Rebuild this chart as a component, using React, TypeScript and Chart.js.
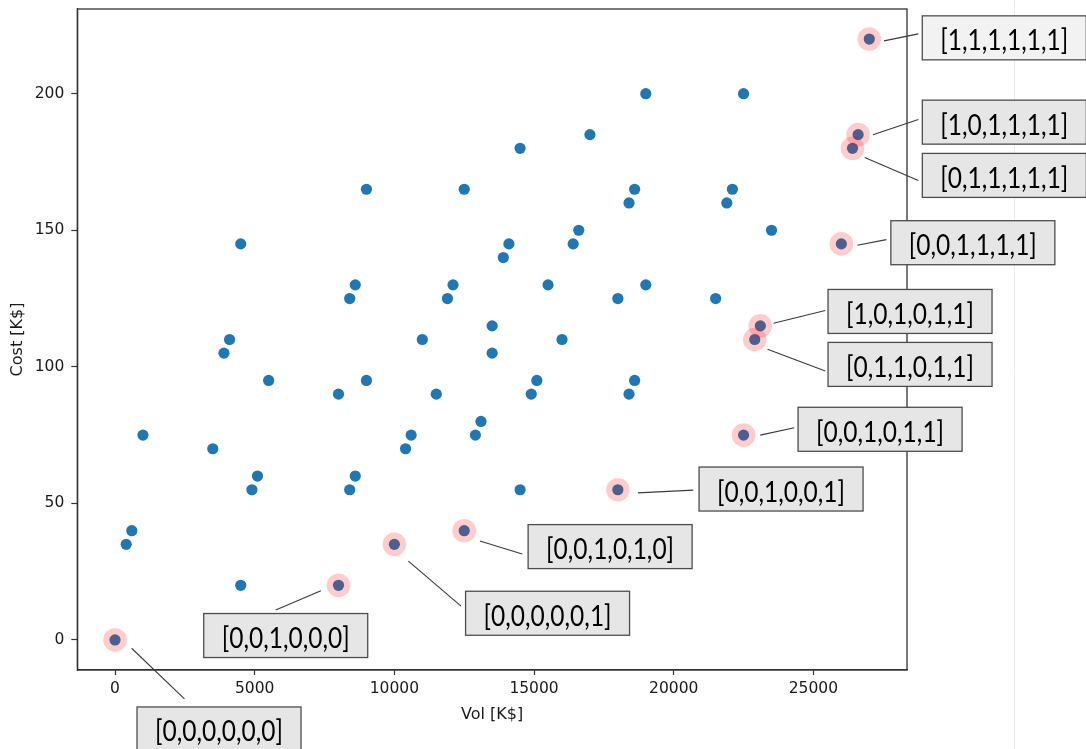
import React, { useEffect, useRef } from "react";
import { Chart, registerables } from "chart.js";

Chart.register(...registerables);

// ---- data ----
const volValues = [
  400, 600, 1000, 3500, 3900, 4100, 4500, 4500, 4900, 5100,
  5500, 8000, 8400, 8600, 9000, 9000, 8400, 8600, 11000, 10400,
  10600, 11500, 11900, 12100, 12500, 12900, 13100, 13500, 13500, 13900,
  14100, 14500, 14500, 14900, 15100, 15500, 16000, 16400, 16600, 17000,
  18000, 18400, 18600, 18400, 18600, 19000, 19000, 21500, 21900, 22100,
  22500, 23500,
];
const costValues = [
  35, 40, 75, 70, 105, 110, 145, 20, 55, 60,
  95, 90, 125, 130, 165, 95, 55, 60, 110, 70,
  75, 90, 125, 130, 165, 75, 80, 105, 115, 140,
  145, 180, 55, 90, 95, 130, 110, 145, 150, 185,
  125, 160, 165, 90, 95, 200, 130, 125, 160, 165,
  200, 150,
];

const paretoVol = [0, 8000, 10000, 12500, 18000, 22500, 22900, 23100, 26000, 26400, 26600, 27000];
const paretoCost = [0, 20, 35, 40, 55, 75, 110, 115, 145, 180, 185, 220];
const paretoLabels = [
  "[0,0,0,0,0,0]",
  "[0,0,1,0,0,0]",
  "[0,0,0,0,0,1]",
  "[0,0,1,0,1,0]",
  "[0,0,1,0,0,1]",
  "[0,0,1,0,1,1]",
  "[0,1,1,0,1,1]",
  "[1,0,1,0,1,1]",
  "[0,0,1,1,1,1]",
  "[0,1,1,1,1,1]",
  "[1,0,1,1,1,1]",
  "[1,1,1,1,1,1]",
];

const xTicks = [0, 5000, 10000, 15000, 20000, 25000];
const yTicks = [0, 50, 100, 150, 200];
const xTitle = "Vol [K$]";
const yTitle = "Cost [K$]";

// ---- layout (pixel offsets of label boxes / leader lines relative to their point) ----
// [boxCenterDx, boxCenterDy, lineStartDx, lineStartDy, lineEndDx, lineEndDy]
const labelLayout = [
  [104, 89, 16.6, 8.3, 69.4, 59],
  [-52.8, 50.2, -17.6, 5.4, -62.8, 24.7],
  [153.2, 68.9, 14, 16.7, 66.7, 61.7],
  [145.9, 15.9, 15.7, 10.4, 58, 23.4],
  [163.2, -0.7, 20, 3.1, 75.4, 0.4],
  [136.5, -5.8, 16.7, 0, 50.7, -7.3],
  [155.3, 24.9, 12.8, 9.7, 70.5, 31.4],
  [149.7, -14.4, 13.2, -2.6, 64.9, -15.3],
  [131.5, -1.2, 16, 1.4, 45, -4.3],
  [151.8, 27.1, 12.2, 9.1, 65.8, 32.1],
  [146.2, -12.5, 14.9, 0.1, 60.2, -15.2],
  [135, -1.2, 14.7, 1.8, 49, -5.2],
];
const boxFills = ["#e6e6e6", "#e6e6e6", "#e6e6e6", "#e6e6e6", "#e6e6e6", "#e6e6e6",
  "#e6e6e6", "#e6e6e6", "#e6e6e6", "#e6e6e6", "#e6e6e6", "#f2f2f2"];

const W = 1086;
const H = 749;

const overlayPlugin = {
  id: "overlay",
  beforeDraw(chart: any) {
    const ctx = chart.ctx;
    ctx.save();
    ctx.fillStyle = "#ffffff";
    ctx.fillRect(0, 0, chart.width, chart.height);
    ctx.strokeStyle = "#ebebeb";
    ctx.lineWidth = 1;
    ctx.beginPath();
    ctx.moveTo(1014.5, 0);
    ctx.lineTo(1014.5, chart.height);
    ctx.stroke();
    ctx.restore();
  },
  beforeDatasetsDraw(chart: any) {
    const { ctx, chartArea } = chart;
    ctx.save();
    ctx.strokeStyle = "#333333";
    ctx.lineWidth = 1.3;
    ctx.strokeRect(chartArea.left, chartArea.top, chartArea.right - chartArea.left, chartArea.bottom - chartArea.top);
    ctx.restore();
  },
  afterDraw(chart: any) {
    const { ctx } = chart;
    const xs = chart.scales.x;
    const ys = chart.scales.y;
    ctx.save();
    for (let i = 0; i < paretoLabels.length; i++) {
      const px = xs.getPixelForValue(paretoVol[i]);
      const py = ys.getPixelForValue(paretoCost[i]);
      const [bdx, bdy, sdx, sdy, edx, edy] = labelLayout[i];
      // leader line
      ctx.strokeStyle = "#3a3a3a";
      ctx.lineWidth = 1.1;
      ctx.beginPath();
      ctx.moveTo(px + sdx, py + sdy);
      ctx.lineTo(px + edx, py + edy);
      ctx.stroke();
      // box
      const bw = 164;
      const bh = 44;
      const cx = px + bdx;
      const cy = py + bdy;
      ctx.fillStyle = boxFills[i];
      ctx.fillRect(cx - bw / 2, cy - bh / 2, bw, bh);
      ctx.strokeStyle = "#4d4d4d";
      ctx.lineWidth = 1.3;
      ctx.strokeRect(cx - bw / 2, cy - bh / 2, bw, bh);
      // text
      ctx.fillStyle = "#000000";
      ctx.font = "29px Lato";
      ctx.textAlign = "center";
      ctx.textBaseline = "alphabetic";
      ctx.fillText(paretoLabels[i], cx, cy + 12.5, 128);
    }
    ctx.restore();
  },
};

export default function App() {
  const canvasRef = useRef<HTMLCanvasElement | null>(null);

  useEffect(() => {
    document.body.style.margin = "0";
    const canvas = canvasRef.current;
    if (!canvas) return;

    const allPoints = volValues.map((v, i) => ({ x: v, y: costValues[i] }))
      .concat(paretoVol.map((v, i) => ({ x: v, y: paretoCost[i] })));
    const paretoPoints = paretoVol.map((v, i) => ({ x: v, y: paretoCost[i] }));

    const tickFont = { family: "DejaVu Sans", size: 15.5 };
    const titleFont = { family: "DejaVu Sans", size: 16 };

    const chart = new Chart(canvas, {
      type: "scatter",
      data: {
        datasets: [
          {
            label: "all",
            data: allPoints,
            backgroundColor: "#1f77b4",
            borderWidth: 0,
            pointRadius: 5.6,
            pointHoverRadius: 5.6,
            order: 2,
          },
          {
            label: "pareto",
            data: paretoPoints,
            backgroundColor: "rgba(255,0,0,0.2)",
            borderWidth: 0,
            pointRadius: 11.8,
            pointHoverRadius: 11.8,
            order: 1,
          },
        ],
      },
      plugins: [overlayPlugin],
      options: {
        animation: false,
        responsive: false,
        maintainAspectRatio: false,
        events: [],
        layout: { autoPadding: false, padding: { left: 0, right: W - 907, top: 9, bottom: 0 } },
        plugins: {
          legend: { display: false },
          tooltip: { enabled: false },
        },
        scales: {
          x: {
            type: "linear",
            min: -1350,
            max: 28350,
            afterFit: (scale: any) => {
              scale.height = H - 670;
              scale.paddingLeft = 0;
              scale.paddingRight = 0;
            },
            afterBuildTicks: (scale: any) => { scale.ticks = xTicks.map((v) => ({ value: v })); },
            grid: { drawOnChartArea: false, drawTicks: true, tickLength: 5, tickColor: "#333333", tickWidth: 1.2 },
            border: { display: true, color: "#333333", width: 1.3 },
            ticks: {
              color: "#1a1a1a",
              font: tickFont,
              padding: 5,
              maxRotation: 0,
              autoSkip: false,
              callback: (v: any) => String(v),
            },
            title: { display: true, text: xTitle, color: "#1a1a1a", font: titleFont, padding: { top: 0, bottom: 25 } },
          },
          y: {
            type: "linear",
            min: -11,
            max: 231,
            afterFit: (scale: any) => {
              scale.width = 77.3;
              scale.paddingTop = 0;
              scale.paddingBottom = 0;
            },
            afterBuildTicks: (scale: any) => { scale.ticks = yTicks.map((v) => ({ value: v })); },
            grid: { drawOnChartArea: false, drawTicks: true, tickLength: 6, tickColor: "#333333", tickWidth: 1.2 },
            border: { display: true, color: "#333333", width: 1.3 },
            ticks: {
              color: "#1a1a1a",
              font: tickFont,
              padding: 7,
              autoSkip: false,
              callback: (v: any) => String(v),
            },
            title: { display: true, text: yTitle, color: "#1a1a1a", font: titleFont, padding: { top: 8.4, bottom: 0 } },
          },
        },
      },
    });

    return () => {
      chart.destroy();
    };
  }, []);

  return (
    <div style={{ position: "absolute", left: 0, top: 0, width: W, height: H, background: "#ffffff" }}>
      <canvas ref={canvasRef} width={W} height={H} style={{ display: "block" }} />
    </div>
  );
}
